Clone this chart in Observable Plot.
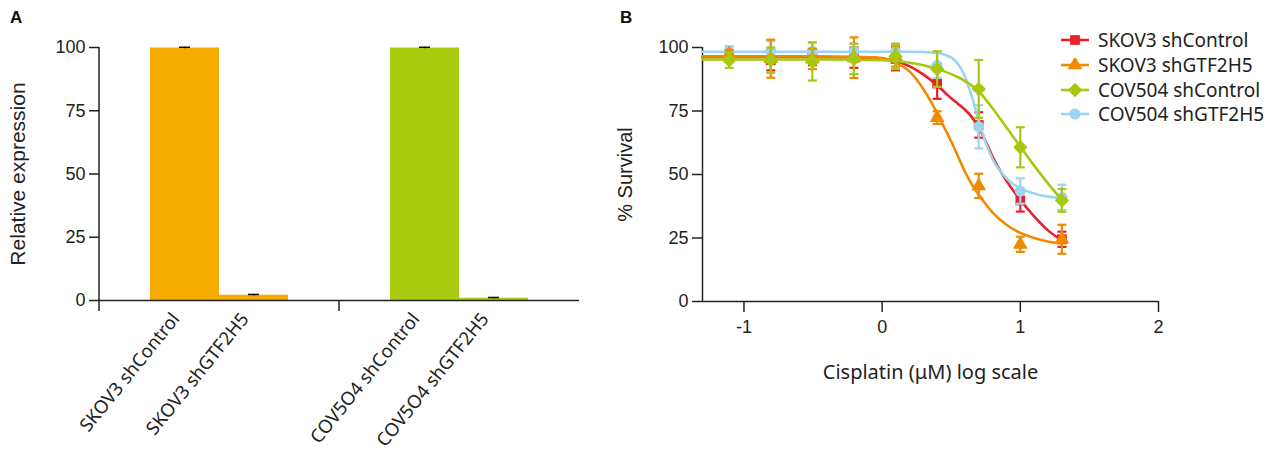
<!DOCTYPE html>
<html><head><meta charset="utf-8">
<script src="https://cdn.jsdelivr.net/npm/d3@7"></script>
<script src="https://cdn.jsdelivr.net/npm/@observablehq/plot@0.6"></script>
<style>
body{margin:0;background:#fff;}
#wrap{position:relative;width:1273px;height:452px;overflow:hidden;}
#a,#b{position:absolute;top:0;}
#a{left:0}
#b{left:600px}
.panel{position:absolute;font-weight:bold;font-size:17px;font-family:"Liberation Sans",Arial,sans-serif;color:#111;z-index:5;}
#legend{position:absolute;left:1060px;top:28px;font-family:"Noto Sans",sans-serif;font-size:19px;color:#222;}
#legend .row{display:flex;align-items:center;height:24.7px;white-space:nowrap;}
#legend svg{margin-right:8px;}
</style></head><body>
<div id="wrap">
<div id="a"></div><div id="b"></div>
<div class="panel" style="left:10px;top:8px">A</div>
<div class="panel" style="left:620px;top:8px">B</div>
<div id="legend"></div>
</div>
<script>
// ---------- Panel A data ----------
const barGroups = ["SKOV3", "COV5O4"];
const barKnock = ["shControl", "shGTF2H5"];
const barGroupOf = ["SKOV3", "SKOV3", "COV5O4", "COV5O4"];
const barKnockOf = ["shControl", "shGTF2H5", "shControl", "shGTF2H5"];
const barLabels = ["SKOV3 shControl", "SKOV3 shGTF2H5", "COV5O4 shControl", "COV5O4 shGTF2H5"];
const barValues = [99.8, 2.1, 99.8, 0.9];
const barErrors = [0.3, 0.3, 0.3, 0.3];
const barColors = ["#F5AC00", "#F5AC00", "#AACC0E", "#AACC0E"];
const expressionTicks = [0, 25, 50, 75, 100];

// ---------- Panel B data ----------
const logDose = [-1.107, -0.806, -0.505, -0.204, 0.097, 0.398, 0.699, 1.0, 1.301];
const doseDomain = [-1.3, 2];
const doseTicks = [-1, 0, 1, 2];
const survivalTicks = [0, 25, 50, 75, 100];
const seriesNames = ["SKOV3 shControl", "SKOV3 shGTF2H5", "COV504 shControl", "COV504 shGTF2H5"];
const seriesColors = ["#E62129", "#F08B00", "#A6C90F", "#9DD5F0"];
const seriesSymbols = ["square", "triangle", "diamond2", "circle"];

const skovCtrlMean = [96, 95, 96, 96, 95.5, 85.8, 69.5, 39.8, 24.5];
const skovCtrlErr  = [1.5, 4, 3, 4, 4.5, 6, 5, 4.4, 3];
const skovKdMean   = [97.5, 95.6, 95.5, 96, 96.5, 72.4, 45.5, 22.5, 24.5];
const skovKdErr    = [1.5, 7.5, 4, 8, 4, 2.5, 4.8, 3, 5.7];
const covCtrlMean  = [95, 95, 94.5, 95.5, 96.5, 91.5, 83.7, 60.7, 39.8];
const covCtrlErr   = [3, 5, 7.5, 6, 5, 7, 11.4, 7.9, 4.5];
const covKdMean    = [98.5, 98.5, 98.5, 98.5, 98.5, 93, 68.8, 43.5, 41];
const covKdErr     = [2, 4, 3.5, 3, 3, 5, 8.5, 5, 5];

// fitted curves
const fitX = [-1.3, -0.6, -0.2, 0, 0.1, 0.2, 0.3, 0.4, 0.45, 0.5, 0.55, 0.6, 0.65, 0.7, 0.75, 0.8, 0.9, 1.0, 1.1, 1.2, 1.3];
const skovCtrlFit = [96.3, 96.3, 96.1, 95.6, 94.7, 92.6, 89.3, 85, 82.5, 80, 77.8, 75.5, 72.5, 68.5, 63, 57, 47.5, 40, 33.5, 28, 24];
const skovKdFit   = [96.5, 96.5, 96.3, 95.8, 94, 90.5, 83.5, 74, 68.5, 63, 57, 51, 46, 42, 38.3, 35, 30.2, 27, 25, 23.6, 22.8];
const covCtrlFit  = [95.3, 95.3, 95.2, 95, 94.7, 94, 93, 91.5, 90.6, 89.5, 88.3, 86.8, 85, 82.7, 79.5, 76, 68.5, 61, 53.5, 46.5, 40];
const covKdFit    = [98.3, 98.3, 98.3, 98.3, 98.3, 98.3, 98.2, 97.8, 97.2, 96, 93.5, 88.5, 80.5, 71, 62.5, 56, 48.5, 44.5, 42.5, 41.3, 40.8];

// ---------- Panel A ----------
const barRows = barLabels.map((label, i) => ({
  group: barGroupOf[i], knock: barKnockOf[i], label,
  value: barValues[i], err: barErrors[i], color: barColors[i]
}));

const plotA = Plot.plot({
  width: 600, height: 452,
  marginLeft: 98, marginRight: 21, marginTop: 47, marginBottom: 152,
  style: {fontFamily: "Liberation Sans, Arial, sans-serif", fontSize: "18px", color: "#222", background: "transparent", overflow: "visible"},
  fx: {domain: barGroups, padding: 0, axis: null},
  x: {domain: barKnock, paddingInner: 0, paddingOuter: 0.73, axis: null},
  y: {domain: [0, 100], axis: null},
  marks: [
    Plot.barY(barRows, {fx: "group", x: "knock", y: "value", fill: "color"}),
    Plot.ruleX(barRows, {fx: "group", x: "knock", y1: d => d.value - d.err, y2: d => d.value + d.err, stroke: "#111", strokeWidth: 1.2}),
    Plot.tickY(barRows, {fx: "group", x: "knock", y: d => d.value + d.err, stroke: "#111", strokeWidth: 1.5, inset: 29}),
    Plot.ruleY([0], {stroke: "#222", strokeWidth: 1.5}),
    Plot.axisY({ticks: expressionTicks, tickSize: 10, tickPadding: 4, fontSize: 18, label: null, strokeWidth: 1.5}),
    Plot.text(["Relative expression"], {fx: () => barGroups[0], frameAnchor: "left", textAnchor: "middle", dx: -81, rotate: -90, fontSize: 21}),
    Plot.text(barRows, {fx: "group", x: "knock", y: 0, text: "label", rotate: -51, textAnchor: "end", dx: -9, dy: 15, fontFamily: "Noto Sans, sans-serif", fontSize: 18.5})
  ]
});
document.getElementById("a").appendChild(plotA);
{
  const svg = d3.select(plotA.tagName === "svg" ? plotA : plotA.querySelector("svg"));
  const fx = plotA.scale("fx"), y = plotA.scale("y");
  const left = fx.apply(barGroups[0]);
  svg.append("line").attr("x1", left).attr("x2", left).attr("y1", y.apply(0)).attr("y2", y.apply(100))
    .attr("stroke", "#222").attr("stroke-width", 1.5);
  barGroups.forEach(g => {
    const gx = fx.apply(g);
    svg.append("line").attr("x1", gx).attr("x2", gx).attr("y1", y.apply(0)).attr("y2", y.apply(0) + 11)
      .attr("stroke", "#222").attr("stroke-width", 1.5);
  });
}

// ---------- Panel B ----------
const seriesMeans = [skovCtrlMean, skovKdMean, covCtrlMean, covKdMean];
const seriesErrs = [skovCtrlErr, skovKdErr, covCtrlErr, covKdErr];
const seriesFits = [skovCtrlFit, skovKdFit, covCtrlFit, covKdFit];

const capSymbol = {
  draw(context, size) {
    const r = Math.sqrt(size / Math.PI);
    context.moveTo(-r, 0);
    context.lineTo(r, 0);
  }
};

const drawOrder = [0, 3, 1, 2];
const seriesMarks = [];
for (const s of drawOrder) {
  const pts = logDose.map((x, i) => ({x, y: seriesMeans[s][i], e: seriesErrs[s][i]}));
  const fit = fitX.map((x, i) => ({x, y: seriesFits[s][i]}));
  const c = seriesColors[s];
  seriesMarks.push(
    Plot.line(fit, {x: "x", y: "y", stroke: c, strokeWidth: 2.6, curve: "monotone-x"}),
    Plot.ruleX(pts, {x: "x", y1: d => d.y - d.e, y2: d => d.y + d.e, stroke: c, strokeWidth: 2.2}),
    Plot.dot(pts, {x: "x", y: d => d.y + d.e, symbol: capSymbol, r: 4.5, stroke: c, strokeWidth: 2.2, fill: "none"}),
    Plot.dot(pts, {x: "x", y: d => d.y - d.e, symbol: capSymbol, r: 4.5, stroke: c, strokeWidth: 2.2, fill: "none"}),
    Plot.dot(pts, {x: "x", y: "y", symbol: seriesSymbols[s], r: s === 2 ? 6.5 : 5.5, fill: c, stroke: "none"})
  );
}

const plotB = Plot.plot({
  width: 673, height: 452,
  marginLeft: 102, marginRight: 115, marginTop: 47, marginBottom: 151,
  style: {fontFamily: "Liberation Sans, Arial, sans-serif", fontSize: "18px", color: "#222", background: "transparent", overflow: "visible"},
  x: {domain: doseDomain, axis: null},
  y: {domain: [0, 100], axis: null},
  marks: [
    Plot.ruleY([0], {stroke: "#222", strokeWidth: 1.5}),
    Plot.ruleX([doseDomain[0]], {stroke: "#222", strokeWidth: 1.5}),
    Plot.axisX({ticks: doseTicks, tickFormat: d => String(d), tickSize: 11, tickPadding: 8, fontSize: 18, label: null, strokeWidth: 1.5}),
    Plot.axisY({ticks: survivalTicks, tickSize: 10, tickPadding: 4, fontSize: 18, label: null, strokeWidth: 1.5}),
    Plot.text(["% Survival"], {frameAnchor: "left", textAnchor: "middle", dx: -77, rotate: -90, fontSize: 20}),
    Plot.text(["Cisplatin (μM) log scale"], {frameAnchor: "bottom", dy: 77, fontFamily: "Noto Sans, sans-serif", fontSize: 20}),
    ...seriesMarks
  ]
});
document.getElementById("b").appendChild(plotB);

// ---------- Legend ----------
const legend = d3.select("#legend");
seriesNames.forEach((name, i) => {
  const row = legend.append("div").attr("class", "row");
  const sw = row.append("svg").attr("width", 30).attr("height", 14);
  sw.append("line").attr("x1", 1).attr("x2", 29).attr("y1", 7).attr("y2", 7)
    .attr("stroke", seriesColors[i]).attr("stroke-width", 2.6);
  const sym = {square: d3.symbolSquare, triangle: d3.symbolTriangle, diamond2: d3.symbolDiamond2, circle: d3.symbolCircle}[seriesSymbols[i]];
  const rr = i === 2 ? 6.5 : 5.5;
  sw.append("path").attr("transform", "translate(15,7)")
    .attr("d", d3.symbol(sym, Math.PI * rr * rr)()).attr("fill", seriesColors[i]);
  row.append("span").text(name);
});
</script>
</body></html>
